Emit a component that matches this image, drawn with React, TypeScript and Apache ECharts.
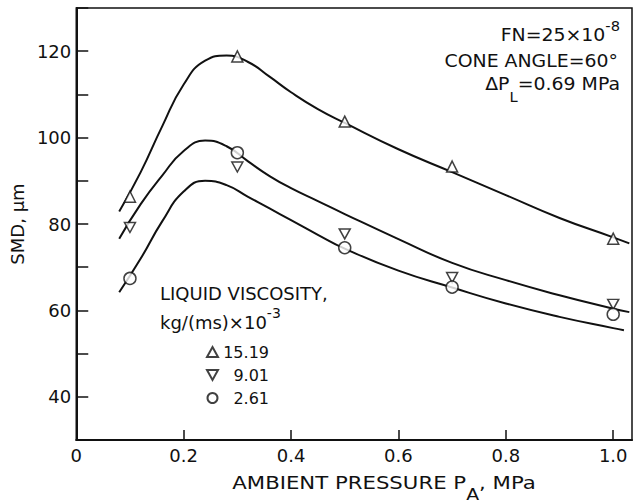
import React, { useEffect, useRef } from 'react';
import * as echarts from 'echarts';

// Measured points: ambient pressure (MPa) vs SMD (µm)
const pressure = [0.1, 0.3, 0.5, 0.7, 1.0];
const smdVisc1519 = [86.3, 118.8, 103.7, 93.3, 76.6];
const smdVisc901 = [79.2, 93.2, 77.7, 67.6, 61.4];
const smdVisc261 = [67.4, 96.5, 74.5, 65.4, 59.1];
const viscosityLabels = ['15.19', '9.01', '2.61'];

// Fitted curves
const curveHigh: [number, number][] = [
  [0.08, 82.9], [0.12, 92.0], [0.16, 102.6], [0.2, 112.3], [0.24, 117.8],
  [0.28, 119.0], [0.32, 117.5], [0.36, 114.1], [0.4, 110.5], [0.45, 106.6],
  [0.5, 103.4], [0.6, 97.3], [0.7, 92.0], [0.8, 86.7], [0.9, 81.4],
  [1.0, 76.9], [1.03, 75.5],
];
const curveMid: [number, number][] = [
  [0.08, 76.6], [0.12, 84.6], [0.16, 91.2], [0.2, 96.9], [0.24, 99.3],
  [0.28, 98.0], [0.32, 94.5], [0.36, 91.1], [0.4, 88.3], [0.45, 85.3],
  [0.5, 82.3], [0.6, 76.5], [0.7, 71.0], [0.8, 67.0], [0.9, 63.5],
  [1.0, 60.4], [1.03, 59.6],
];
const curveLow: [number, number][] = [
  [0.08, 64.2], [0.12, 72.0], [0.16, 80.6], [0.2, 87.5], [0.24, 90.0],
  [0.28, 89.0], [0.32, 86.3], [0.36, 83.6], [0.4, 80.9], [0.45, 77.5],
  [0.5, 74.3], [0.6, 69.2], [0.7, 65.3], [0.8, 61.6], [0.9, 58.5],
  [1.0, 55.9], [1.02, 55.4],
];

const yLabelValues = [40, 60, 80, 100, 120];

const FONT = 'DejaVu Sans';
const INK = '#111';
const DOWN_TRIANGLE = 'path://M0,0L10,0L5,9Z';

export default function App() {
  const ref = useRef<HTMLDivElement>(null);

  useEffect(() => {
    if (!ref.current) return;
    const chart = echarts.init(ref.current, undefined, { renderer: 'svg' });

    const lineSeries = (data: [number, number][]) => ({
      type: 'line',
      data,
      smooth: 0.5,
      showSymbol: false,
      symbol: 'none',
      silent: true,
      lineStyle: { color: INK, width: 2 },
      z: 2,
    });

    const markerStyle = { color: '#fff', borderColor: INK, borderWidth: 1.5 };

    const pts = (vals: number[]) => pressure.map((p, i) => [p, vals[i]]);

    chart.setOption({
      animation: false,
      backgroundColor: '#fff',
      textStyle: { fontFamily: FONT, color: INK },
      grid: {
        left: 74,
        right: 3,
        top: 8,
        bottom: 64,
        show: true,
        borderColor: INK,
        borderWidth: 1.5,
        backgroundColor: 'transparent',
      },
      xAxis: {
        type: 'value',
        min: 0,
        max: 1.035,
        interval: 0.2,
        axisLine: { show: true, lineStyle: { color: INK, width: 2 } },
        axisTick: { show: true, inside: true, length: 10, lineStyle: { color: INK, width: 1.5 } },
        splitLine: { show: false },
        axisLabel: {
          fontSize: 18,
          fontFamily: FONT,
          color: INK,
          margin: 6,
          showMaxLabel: false,
          formatter: (v: number) => (v === 0 ? '0' : v.toFixed(1)),
        },
      },
      yAxis: {
        type: 'value',
        min: 30,
        max: 130,
        interval: 10,
        name: 'SMD, μm',
        nameLocation: 'middle',
        nameGap: 44,
        nameTextStyle: { fontSize: 18, fontFamily: FONT, color: INK },
        axisLine: { show: true, lineStyle: { color: INK, width: 2 } },
        axisTick: { show: true, inside: true, length: 12, lineStyle: { color: INK, width: 1.5 } },
        splitLine: { show: false },
        axisLabel: {
          fontSize: 18,
          fontFamily: FONT,
          color: INK,
          margin: 5,
          formatter: (v: number) => (yLabelValues.includes(Math.round(v)) ? String(Math.round(v)) : ''),
        },
      },
      legend: {
        data: viscosityLabels,
        orient: 'vertical',
        left: 201,
        top: 339,
        itemWidth: 11,
        itemHeight: 10,
        itemGap: 7,
        selectedMode: false,
        textStyle: {
          fontSize: 16,
          fontFamily: FONT,
          color: INK,
          rich: { n: { fontSize: 16, fontFamily: FONT, width: 46, align: 'right', lineHeight: 18 } },
        },
        formatter: (name: string) => `{n|${name}}`,
      },
      series: [
        lineSeries(curveHigh),
        lineSeries(curveMid),
        lineSeries(curveLow),
        {
          name: viscosityLabels[0],
          type: 'scatter',
          symbol: 'triangle',
          symbolSize: 11,
          data: pts(smdVisc1519),
          itemStyle: markerStyle,
          z: 5,
        },
        {
          name: viscosityLabels[1],
          type: 'scatter',
          symbol: DOWN_TRIANGLE,
          symbolSize: [11, 10],
          data: pts(smdVisc901),
          itemStyle: markerStyle,
          z: 5,
        },
        {
          name: viscosityLabels[2],
          type: 'scatter',
          symbol: 'circle',
          symbolSize: 12,
          data: pts(smdVisc261),
          itemStyle: markerStyle,
          z: 5,
        },
      ],
      graphic: [
        {
          type: 'text',
          x: 384,
          y: 483,
          scaleX: 1.18,
          style: {
            text: 'AMBIENT PRESSURE P{s|A}, MPa',
            fontSize: 18,
            fontFamily: FONT,
            lineHeight: 40,
            fill: INK,
            align: 'center',
            verticalAlign: 'middle',
            rich: { s: { fontSize: 16, fontFamily: FONT, lineHeight: 16, verticalAlign: 'bottom', fill: INK } },
          },
        },
        {
          type: 'text',
          x: 620,
          y: 35,
          scaleX: 1.05,
          style: {
            text: 'FN=25×10{u|-8}',
            fontSize: 18,
            fontFamily: FONT,
            lineHeight: 32,
            fill: INK,
            align: 'right',
            verticalAlign: 'middle',
            rich: { u: { fontSize: 14, fontFamily: FONT, lineHeight: 14, verticalAlign: 'top', fill: INK } },
          },
        },
        {
          type: 'text',
          x: 618,
          y: 61,
          scaleX: 1.05,
          style: {
            text: 'CONE ANGLE=60°',
            fontSize: 18,
            fontFamily: FONT,
            fill: INK,
            align: 'right',
            verticalAlign: 'middle',
          },
        },
        {
          type: 'text',
          x: 620,
          y: 84,
          scaleX: 1.05,
          style: {
            text: 'ΔP{s|L}=0.69 MPa',
            fontSize: 18,
            fontFamily: FONT,
            lineHeight: 41,
            fill: INK,
            align: 'right',
            verticalAlign: 'middle',
            rich: { s: { fontSize: 14, fontFamily: FONT, lineHeight: 14, verticalAlign: 'bottom', fill: INK } },
          },
        },
        {
          type: 'text',
          x: 160,
          y: 293,
          style: {
            text: 'LIQUID VISCOSITY,',
            fontSize: 18,
            fontFamily: FONT,
            fill: INK,
            align: 'left',
            verticalAlign: 'middle',
          },
        },
        {
          type: 'text',
          x: 160,
          y: 322,
          style: {
            text: 'kg/(ms)×10{u|-3}',
            fontSize: 18,
            fontFamily: FONT,
            lineHeight: 32,
            fill: INK,
            align: 'left',
            verticalAlign: 'middle',
            rich: { u: { fontSize: 14, fontFamily: FONT, lineHeight: 14, verticalAlign: 'top', fill: INK } },
          },
        },
      ],
    });

    return () => chart.dispose();
  }, []);

  return (
    <div
      ref={ref}
      style={{ position: 'fixed', left: 0, top: 0, width: 635, height: 504, background: '#fff' }}
    />
  );
}
